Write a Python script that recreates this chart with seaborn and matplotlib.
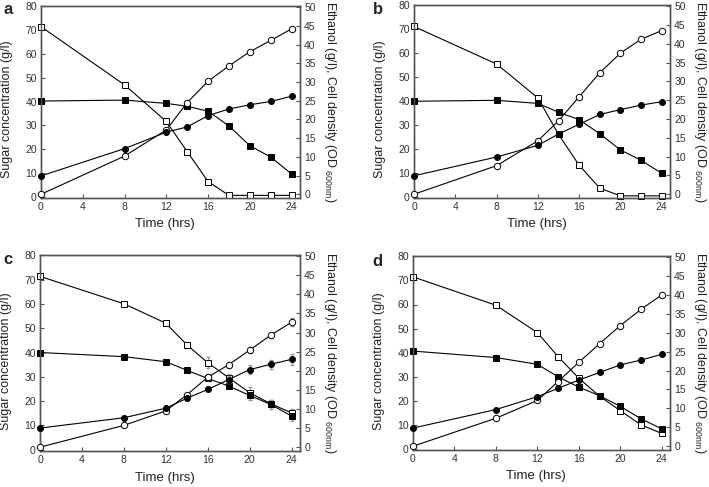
import matplotlib
matplotlib.use("Agg")
import matplotlib.pyplot as plt
import seaborn as sns
import numpy as np

# Tiempos de muestreo (h)
time_h = [0, 8, 12, 14, 16, 18, 20, 22, 24]

# Panel a
glc_a = [71.5, 47.0, 31.6, 18.9, 6.3, 0.5, 0.5, 0.5, 0.5]
xyl_a = [40.2, 40.6, 39.2, 38.0, 35.9, 29.7, 21.4, 16.6, 9.5]
eth_a = [0.0, 10.2, 17.2, 24.5, 30.2, 34.3, 38.1, 41.1, 44.2]
od_a = [4.9, 12.2, 16.6, 18.0, 21.0, 22.8, 23.9, 24.8, 26.2]

# Panel b
glc_b = [71.2, 55.5, 41.3, 26.0, 13.1, 3.5, 0.3, 0.3, 0.3]
xyl_b = [39.9, 40.3, 39.0, 35.3, 32.2, 26.3, 19.5, 15.2, 9.7]
eth_b = [0.0, 7.6, 14.2, 19.5, 25.9, 32.3, 37.5, 41.2, 43.5]
od_b = [4.9, 9.9, 13.0, 16.0, 18.6, 21.2, 22.5, 23.7, 24.6]

# Panel c (con barras de error)
glc_c = [71.4, 60.1, 52.1, 43.2, 35.8, 29.6, 23.4, 18.9, 15.1]
xyl_c = [40.0, 38.3, 36.2, 32.7, 29.3, 26.2, 22.3, 18.6, 13.8]
eth_c = [0.0, 5.7, 9.5, 13.7, 18.3, 21.6, 25.4, 29.3, 32.7]
od_c = [5.0, 7.7, 10.2, 12.8, 15.1, 17.7, 20.3, 21.7, 23.0]
glc_c_err = [0, 0, 0, 1.2, 2.2, 1.5, 2.2, 1.5, 1.8]
xyl_c_err = [0, 0, 0, 0.8, 1.0, 1.0, 2.0, 2.0, 2.0]
eth_c_err = [0, 0, 0, 0.5, 0.8, 0.8, 0.8, 0.7, 1.0]
od_c_err = [0, 0, 0, 0.5, 0.5, 0.8, 1.2, 1.2, 1.4]

# Panel d
glc_d = [71.5, 59.7, 48.3, 38.3, 29.3, 21.8, 15.8, 9.9, 6.3]
xyl_d = [40.6, 37.9, 35.1, 29.9, 25.6, 22.0, 17.6, 12.4, 8.2]
eth_d = [0.0, 7.4, 12.1, 17.1, 22.2, 27.1, 31.9, 36.2, 40.0]
od_d = [4.8, 9.7, 13.1, 15.3, 17.5, 19.5, 21.5, 22.8, 24.3]

sns.set_style("ticks")
plt.rcParams["font.family"] = ["Liberation Sans", "DejaVu Sans"]
plt.rcParams["mathtext.fontset"] = "custom"
plt.rcParams["mathtext.rm"] = "Liberation Sans"

fig = plt.figure(figsize=(7.09, 4.87), dpi=100)
W, H = 709, 487

# posiciones de los ejes en pixeles: (izq, der, arriba, abajo)
cajas = {
    "a": (41, 300, 6, 198),
    "b": (414, 670, 5, 198),
    "c": (40, 300, 255, 451),
    "d": (413, 670, 256, 450),
}
letras = {"a": (3, 9), "b": (373, 10), "c": (3, 260), "d": (372, 261)}

paneles = {
    "a": (glc_a, xyl_a, eth_a, od_a, None),
    "b": (glc_b, xyl_b, eth_b, od_b, None),
    "c": (glc_c, xyl_c, eth_c, od_c, (glc_c_err, xyl_c_err, eth_c_err, od_c_err)),
    "d": (glc_d, xyl_d, eth_d, od_d, None),
}

gris = "#555555"
ms = 4.6
lw = 0.8

for key, (glc, xyl, eth, od, errs) in paneles.items():
    l, r, t, b = cajas[key]
    ax = fig.add_axes([l / W, 1 - b / H, (r - l) / W, (b - t) / H])
    ax2 = ax.twinx()

    if errs is not None:
        ax.errorbar(time_h, glc, yerr=errs[0], fmt="none", ecolor="#999999",
                    elinewidth=0.8, capsize=1.5, zorder=1)
        ax.errorbar(time_h, xyl, yerr=errs[1], fmt="none", ecolor="#999999",
                    elinewidth=0.8, capsize=1.5, zorder=1)
        ax2.errorbar(time_h, eth, yerr=errs[2], fmt="none", ecolor="#999999",
                     elinewidth=0.8, capsize=1.5, zorder=1)
        ax2.errorbar(time_h, od, yerr=errs[3], fmt="none", ecolor="#999999",
                     elinewidth=0.8, capsize=1.5, zorder=1)

    # azucares (eje izquierdo)
    sns.lineplot(x=time_h, y=glc, ax=ax, color="black", lw=lw, marker="s",
                 markersize=ms, markerfacecolor="white", markeredgecolor="black",
                 markeredgewidth=0.7, clip_on=False, zorder=3)
    sns.lineplot(x=time_h, y=xyl, ax=ax, color="black", lw=lw, marker="s",
                 markersize=ms, markerfacecolor="black", markeredgecolor="black",
                 markeredgewidth=0.7, clip_on=False, zorder=3)
    # etanol y densidad celular (eje derecho)
    sns.lineplot(x=time_h, y=eth, ax=ax2, color="black", lw=lw, marker="o",
                 markersize=ms, markerfacecolor="white", markeredgecolor="black",
                 markeredgewidth=0.7, clip_on=False, zorder=3)
    sns.lineplot(x=time_h, y=od, ax=ax2, color="black", lw=lw, marker="o",
                 markersize=ms - 0.3, markerfacecolor="black", markeredgecolor="black",
                 markeredgewidth=0.7, clip_on=False, zorder=3)

    ax.set_xlim(0, 24.8)
    ax.set_ylim(-0.6, 80.2)
    ax2.set_ylim(-1.0, 50.3)
    ax.set_xticks(range(0, 25, 4))
    ax.set_yticks(range(0, 81, 10))
    ax2.set_yticks(range(0, 51, 5))

    for a in (ax, ax2):
        for s in a.spines.values():
            s.set_color(gris)
            s.set_linewidth(1.0)
        a.tick_params(direction="in", length=3, width=0.8, color=gris,
                      labelsize=7.5, labelcolor="#333333", pad=3)
    ax.tick_params(axis="y", right=False)
    ax.tick_params(axis="x", top=False)

    ax.set_xlabel("Time (hrs)", fontsize=9.5, color="#222222")
    ax.xaxis.set_label_coords(0.48, -0.105)
    ax.set_ylabel("Sugar concentration (g/l)", fontsize=9, color="#222222")
    ax.yaxis.set_label_coords(-0.108, 0.46)
    ax2.set_ylabel(r"Ethanol (g/l), Cell density (OD $_{\mathregular{600nm}}$)",
                   fontsize=9, color="#222222", rotation=270, va="center")
    ax2.yaxis.set_label_coords(1.116, 0.5)

    lx, ly = letras[key]
    fig.text(lx / W, 1 - ly / H, key, fontsize=12, fontweight="bold",
             ha="left", va="center")

fig.savefig("out.png", dpi=100)
